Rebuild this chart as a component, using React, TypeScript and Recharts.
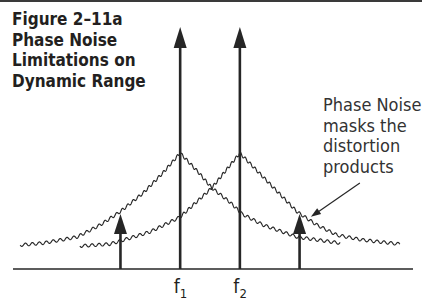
import { ComposedChart, Scatter, XAxis, YAxis } from 'recharts'

// frequency axis: f1 = 3, f2 = 4 (arbitrary units); level axis: tones reach 100
const TONE_FREQS = [3, 4]
const TONE_LEVELS = [100, 100]
const TONE_SUBSCRIPTS = ['1', '2']
// third-order products at 2f1-f2 and 2f2-f1
const DISTORTION_FREQS = [2, 5]
const DISTORTION_LEVELS = [22.7, 22.7]

// phase-noise skirt around f1
const F1_NOISE_X = [0.32, 0.7, 1.27, 1.66, 1.99, 2.38, 2.71, 3.0, 3.3, 3.53, 3.83, 4.04, 4.39, 4.96, 5.68]
const F1_NOISE_Y = [9.9, 10.7, 13.2, 18.2, 23.6, 31.4, 39.7, 47.9, 40.1, 33.5, 27.7, 22.7, 18.2, 13.2, 10.7]
// phase-noise skirt around f2
const F2_NOISE_X = [1.32, 1.82, 2.16, 2.49, 2.83, 3.0, 3.53, 4.0, 4.39, 4.96, 5.29, 5.63, 6.06, 6.68]
const F2_NOISE_Y = [9.5, 10.3, 12.8, 15.3, 19.4, 21.5, 33.5, 47.9, 38.0, 23.6, 18.2, 14.0, 12.0, 10.3]

// callout arrow: from the note down to the upper distortion product
const POINTER_X = [6.01, 5.19]
const POINTER_Y = [35.5, 21.6]

const TITLE_LINES = ['Figure 2–11a', 'Phase Noise', 'Limitations on', 'Dynamic Range']
const NOTE_LINES = ['Phase Noise', 'masks the', 'distortion', 'products']

const INK = '#262626'
const TEXT = '#231f20'
const CONDENSED = '"DejaVu Sans Condensed", "Liberation Sans Narrow", sans-serif'

const WAVE_AMP = 1.5
const WAVE_LEN = 7

type Pt = { x: number; y: number }

function zip(xs: number[], ys: number[]): Pt[] {
  return xs.map((x, i) => ({ x, y: ys[i] }))
}

const f1Noise = zip(F1_NOISE_X, F1_NOISE_Y)
const f2Noise = zip(F2_NOISE_X, F2_NOISE_Y)
const tones = TONE_FREQS.map((f, i) => [{ x: f, y: 0 }, { x: f, y: TONE_LEVELS[i] }])
const products = DISTORTION_FREQS.map((f, i) => [{ x: f, y: 0 }, { x: f, y: DISTORTION_LEVELS[i] }])
const pointer = zip(POINTER_X, POINTER_Y)

function cleanPoints(points: any): Pt[] {
  return (points ?? []).filter((p: any) => p && p.x != null && p.y != null)
}

// squiggly trace drawn along the scaled points
function WavyLine({ points }: any) {
  const pts = cleanPoints(points)
  if (pts.length < 2) return null
  const out: string[] = []
  let s = 0
  for (let i = 0; i < pts.length - 1; i++) {
    const a = pts[i]
    const b = pts[i + 1]
    const len = Math.hypot(b.x - a.x, b.y - a.y)
    const n = Math.max(1, Math.ceil(len / 0.4))
    for (let k = i === 0 ? 0 : 1; k <= n; k++) {
      const t = k / n
      const x = a.x + (b.x - a.x) * t
      const y = a.y + (b.y - a.y) * t + WAVE_AMP * Math.sin((2 * Math.PI * (s + len * t)) / WAVE_LEN)
      out.push(`${x.toFixed(2)},${y.toFixed(2)}`)
    }
    s += len
  }
  return <path d={'M' + out.join('L')} fill="none" stroke={INK} strokeWidth={1.15} strokeLinejoin="round" />
}

function ArrowLine({ points, headLen = 20, headW = 13, lineW = 2.6 }: any) {
  const pts = cleanPoints(points)
  if (pts.length < 2) return null
  const [a, b] = pts
  const dx = b.x - a.x
  const dy = b.y - a.y
  const len = Math.hypot(dx, dy) || 1
  const ux = dx / len
  const uy = dy / len
  const bx = b.x - ux * headLen
  const by = b.y - uy * headLen
  const px = -uy * (headW / 2)
  const py = ux * (headW / 2)
  return (
    <g>
      <line x1={a.x} y1={a.y} x2={bx + ux} y2={by + uy} stroke={INK} strokeWidth={lineW} />
      <polygon points={`${b.x},${b.y} ${bx + px},${by + py} ${bx - px},${by - py}`} fill={INK} />
    </g>
  )
}

const NoDot = () => <g />

function FreqTick({ x, y, payload }: any) {
  const idx = TONE_FREQS.indexOf(payload.value)
  return (
    <text x={x - 6.5} y={y + 24} fontFamily={CONDENSED} fontSize={19} fill={TEXT}>
      f<tspan dy={5} fontSize={13}>{TONE_SUBSCRIPTS[idx]}</tspan>
    </text>
  )
}

export default function App() {
  return (
    <div style={{ position: 'absolute', left: 0, top: 0, width: 422, height: 301, background: '#fff', overflow: 'hidden' }}>
      <div style={{ position: 'absolute', left: 0, top: 0, width: 422, height: 2, background: '#3a3a3a' }} />
      <div
        style={{
          position: 'absolute', left: 12, top: 8.8, fontFamily: CONDENSED, fontWeight: 'bold',
          fontSize: 17, lineHeight: '20.7px', color: TEXT, whiteSpace: 'nowrap',
        }}
      >
        {TITLE_LINES.map((t) => <div key={t}>{t}</div>)}
      </div>
      <div
        style={{
          position: 'absolute', left: 323, top: 95.2, fontFamily: CONDENSED,
          fontSize: 18, lineHeight: '20.5px', color: '#333', whiteSpace: 'nowrap',
        }}
      >
        {NOTE_LINES.map((t) => <div key={t}>{t}</div>)}
      </div>
      <div style={{ position: 'absolute', left: 0, top: 0 }}>
        <ComposedChart width={422} height={301} margin={{ top: 27, right: 9, bottom: 0, left: 13 }}>
          <XAxis
            type="number"
            dataKey="x"
            domain={[0.2, 6.9]}
            ticks={TONE_FREQS}
            tick={<FreqTick />}
            tickLine={false}
            tickSize={0}
            tickMargin={0}
            height={32}
            axisLine={{ stroke: INK, strokeWidth: 1.5 }}
            allowDataOverflow
          />
          <YAxis type="number" dataKey="y" domain={[0, 100]} hide allowDataOverflow />
          <Scatter data={f1Noise} fill={INK} shape={<NoDot />} line={<WavyLine />} isAnimationActive={false} />
          <Scatter data={f2Noise} fill={INK} shape={<NoDot />} line={<WavyLine />} isAnimationActive={false} />
          {tones.map((d, i) => (
            <Scatter key={`tone-${i}`} data={d} fill={INK} shape={<NoDot />} line={<ArrowLine headLen={21} headW={13} lineW={2.6} />} isAnimationActive={false} />
          ))}
          {products.map((d, i) => (
            <Scatter key={`prod-${i}`} data={d} fill={INK} shape={<NoDot />} line={<ArrowLine headLen={20} headW={13} lineW={2.6} />} isAnimationActive={false} />
          ))}
          <Scatter data={pointer} fill={INK} shape={<NoDot />} line={<ArrowLine headLen={10} headW={7} lineW={1.2} />} isAnimationActive={false} />
        </ComposedChart>
      </div>
    </div>
  )
}
